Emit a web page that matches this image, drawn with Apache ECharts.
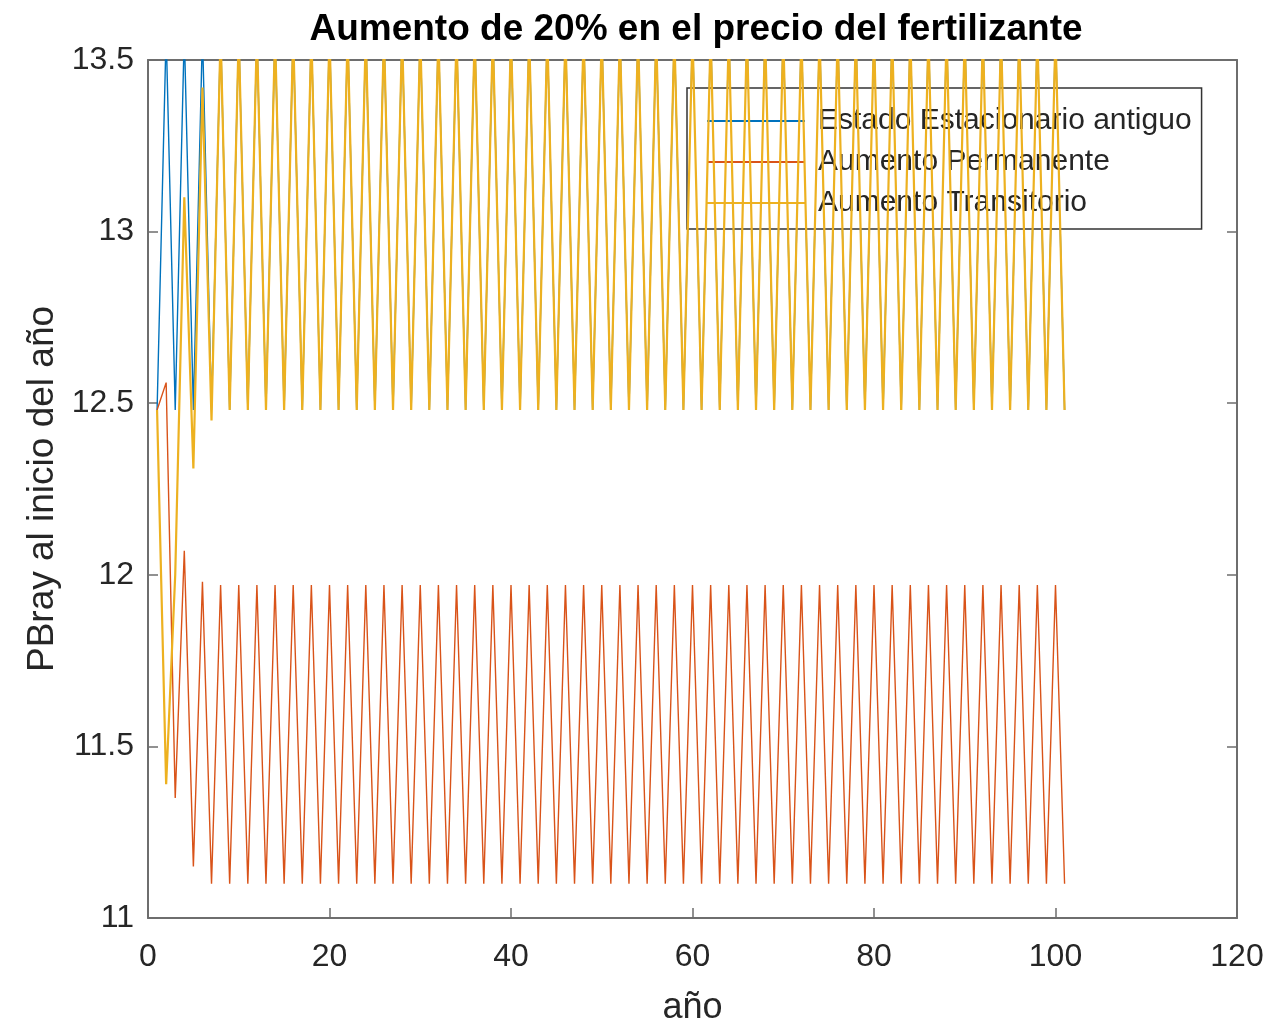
<!DOCTYPE html>
<html>
<head>
<meta charset="utf-8">
<script src="https://cdn.jsdelivr.net/npm/echarts@6/dist/echarts.min.js"></script>
<style>html,body{margin:0;padding:0;background:#fff;}#c{width:1268px;height:1024px;}</style>
</head>
<body>
<div id="c"></div>
<script>
const years = [
  1,2,3,4,5,6,7,8,9,10,
  11,12,13,14,15,16,17,18,19,20,
  21,22,23,24,25,26,27,28,29,30,
  31,32,33,34,35,36,37,38,39,40,
  41,42,43,44,45,46,47,48,49,50,
  51,52,53,54,55,56,57,58,59,60,
  61,62,63,64,65,66,67,68,69,70,
  71,72,73,74,75,76,77,78,79,80,
  81,82,83,84,85,86,87,88,89,90,
  91,92,93,94,95,96,97,98,99,100,
  101
];
const estadoAntiguo = [
  12.48,13.58,12.48,13.58,12.48,13.58,12.48,13.58,12.48,13.58,
  12.48,13.58,12.48,13.58,12.48,13.58,12.48,13.58,12.48,13.58,
  12.48,13.58,12.48,13.58,12.48,13.58,12.48,13.58,12.48,13.58,
  12.48,13.58,12.48,13.58,12.48,13.58,12.48,13.58,12.48,13.58,
  12.48,13.58,12.48,13.58,12.48,13.58,12.48,13.58,12.48,13.58,
  12.48,13.58,12.48,13.58,12.48,13.58,12.48,13.58,12.48,13.58,
  12.48,13.58,12.48,13.58,12.48,13.58,12.48,13.58,12.48,13.58,
  12.48,13.58,12.48,13.58,12.48,13.58,12.48,13.58,12.48,13.58,
  12.48,13.58,12.48,13.58,12.48,13.58,12.48,13.58,12.48,13.58,
  12.48,13.58,12.48,13.58,12.48,13.58,12.48,13.58,12.48,13.58,
  12.48
];
const aumentoPermanente = [
  12.48,12.56,11.35,12.07,11.15,11.98,11.10,11.97,11.10,11.97,
  11.10,11.97,11.10,11.97,11.10,11.97,11.10,11.97,11.10,11.97,
  11.10,11.97,11.10,11.97,11.10,11.97,11.10,11.97,11.10,11.97,
  11.10,11.97,11.10,11.97,11.10,11.97,11.10,11.97,11.10,11.97,
  11.10,11.97,11.10,11.97,11.10,11.97,11.10,11.97,11.10,11.97,
  11.10,11.97,11.10,11.97,11.10,11.97,11.10,11.97,11.10,11.97,
  11.10,11.97,11.10,11.97,11.10,11.97,11.10,11.97,11.10,11.97,
  11.10,11.97,11.10,11.97,11.10,11.97,11.10,11.97,11.10,11.97,
  11.10,11.97,11.10,11.97,11.10,11.97,11.10,11.97,11.10,11.97,
  11.10,11.97,11.10,11.97,11.10,11.97,11.10,11.97,11.10,11.97,
  11.10
];
const aumentoTransitorio = [
  12.48,11.39,12.00,13.10,12.31,13.42,12.45,13.58,12.48,13.58,
  12.48,13.58,12.48,13.58,12.48,13.58,12.48,13.58,12.48,13.58,
  12.48,13.58,12.48,13.58,12.48,13.58,12.48,13.58,12.48,13.58,
  12.48,13.58,12.48,13.58,12.48,13.58,12.48,13.58,12.48,13.58,
  12.48,13.58,12.48,13.58,12.48,13.58,12.48,13.58,12.48,13.58,
  12.48,13.58,12.48,13.58,12.48,13.58,12.48,13.58,12.48,13.58,
  12.48,13.58,12.48,13.58,12.48,13.58,12.48,13.58,12.48,13.58,
  12.48,13.58,12.48,13.58,12.48,13.58,12.48,13.58,12.48,13.58,
  12.48,13.58,12.48,13.58,12.48,13.58,12.48,13.58,12.48,13.58,
  12.48,13.58,12.48,13.58,12.48,13.58,12.48,13.58,12.48,13.58,
  12.48
];
const seriesNames = ['Estado Estacionario antiguo', 'Aumento Permanente', 'Aumento Transitorio'];
const seriesColors = ['#0072BD', '#D95319', '#EDB120'];
const titleText = 'Aumento de 20% en el precio del fertilizante';
const xName = 'año';
const yName = 'PBray al inicio del año';

const pairs = arr => arr.map((v, i) => [years[i], v]);
const FONT = 'Liberation Sans, Arial, Helvetica, sans-serif';
const axisCol = '#6e6e6e';
const labelCol = '#262626';

const chart = echarts.init(document.getElementById('c'), null, {renderer: 'canvas'});
const hiddenAxisCommon = {
  axisLine: {show: true, onZero: false, lineStyle: {color: axisCol, width: 2}},
  axisTick: {show: true, inside: true, length: 10, lineStyle: {color: axisCol, width: 1.5}},
  axisLabel: {show: false},
  splitLine: {show: false}
};
chart.setOption({
  backgroundColor: '#fff',
  animation: false,
  title: {
    text: titleText,
    left: 691, top: 6, textAlign: 'center',
    textStyle: {fontFamily: FONT, fontSize: 37, fontWeight: 'bold', color: '#000'}
  },
  grid: {left: 148, right: 31, top: 60, bottom: 106, outerBoundsMode: 'none', containLabel: false},
  legend: {
    orient: 'vertical', left: 687, top: 88,
    padding: [18, 10, 11, 20], itemGap: 11,
    itemWidth: 98, itemHeight: 2, icon: 'rect',
    backgroundColor: '#fff', borderColor: '#333', borderWidth: 1.5,
    textStyle: {fontFamily: FONT, fontSize: 30, color: labelCol, padding: [0, 0, 0, 8]},
    data: seriesNames
  },
  xAxis: [{
    type: 'value', min: 0, max: 120, interval: 20,
    name: xName, nameLocation: 'middle', nameGap: 72,
    nameTextStyle: {fontFamily: FONT, fontSize: 36, color: labelCol},
    axisLine: {show: true, onZero: false, lineStyle: {color: axisCol, width: 2}},
    axisTick: {show: true, inside: true, length: 10, lineStyle: {color: axisCol, width: 1.5}},
    axisLabel: {fontFamily: FONT, fontSize: 32, color: labelCol, margin: 23},
    splitLine: {show: false}
  }, Object.assign({type: 'value', position: 'top', min: 0, max: 120, interval: 20}, hiddenAxisCommon)],
  yAxis: [{
    type: 'value', min: 11, max: 13.5, interval: 0.5,
    name: yName, nameLocation: 'middle', nameGap: 81,
    nameTextStyle: {fontFamily: FONT, fontSize: 37, color: labelCol},
    axisLine: {show: true, onZero: false, lineStyle: {color: axisCol, width: 2}},
    axisTick: {show: true, inside: true, length: 10, lineStyle: {color: axisCol, width: 1.5}},
    axisLabel: {fontFamily: FONT, fontSize: 32, color: labelCol, margin: 14},
    splitLine: {show: false}
  }, Object.assign({type: 'value', position: 'right', min: 11, max: 13.5, interval: 0.5}, hiddenAxisCommon)],
  series: [
    {name: seriesNames[0], type: 'line', data: pairs(estadoAntiguo)},
    {name: seriesNames[1], type: 'line', data: pairs(aumentoPermanente)},
    {name: seriesNames[2], type: 'line', data: pairs(aumentoTransitorio)}
  ].map((s, i) => Object.assign(s, {
    xAxisIndex: 0, yAxisIndex: 0,
    symbol: 'none', showSymbol: false, clip: true,
    color: seriesColors[i],
    lineStyle: {color: seriesColors[i], width: i === 2 ? 2.2 : 1.4},
    z: 2 + i
  }))
});
</script>
</body>
</html>
